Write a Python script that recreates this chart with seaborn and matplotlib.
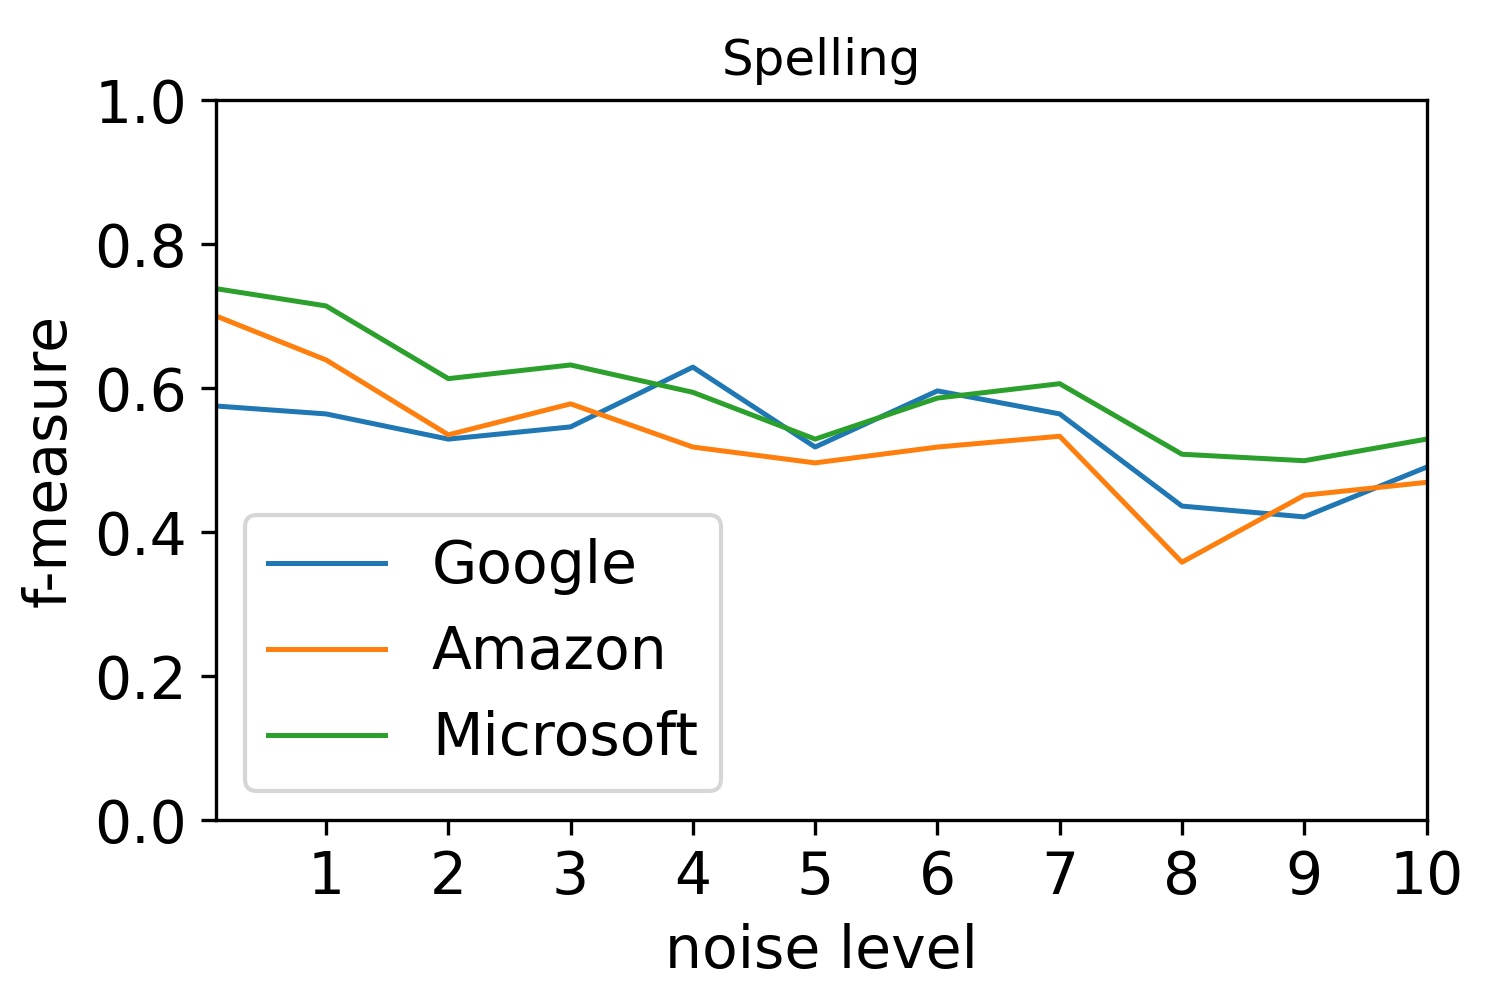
import matplotlib
matplotlib.use("Agg")
import matplotlib.pyplot as plt
import seaborn as sns
import pandas as pd

noise = [0.1, 1, 2, 3, 4, 5, 6, 7, 8, 9, 10]
google = [0.575, 0.564, 0.529, 0.546, 0.629, 0.518, 0.596, 0.564, 0.436, 0.421, 0.490]
amazon = [0.700, 0.639, 0.535, 0.578, 0.518, 0.496, 0.518, 0.533, 0.358, 0.451, 0.469]
microsoft = [0.738, 0.714, 0.613, 0.632, 0.594, 0.529, 0.586, 0.606, 0.508, 0.499, 0.529]

df = pd.DataFrame({"noise": noise * 3,
                   "f": google + amazon + microsoft,
                   "service": ["Google"] * 11 + ["Amazon"] * 11 + ["Microsoft"] * 11})

plt.rcParams['font.family'] = ['DejaVu Sans']
fig, ax = plt.subplots(figsize=(5, 10/3), dpi=300)
sns.lineplot(data=df, x="noise", y="f", hue="service",
             palette=["#1f77b4", "#ff7f0e", "#2ca02c"], ax=ax, linewidth=1.2)
ax.set_xlim(0.1, 10)
ax.set_ylim(0, 1)
ax.set_xticks(range(1, 11))
ax.set_yticks([0, 0.2, 0.4, 0.6, 0.8, 1.0])
ax.tick_params(labelsize=14)
ax.set_xlabel("noise level", fontsize=14)
ax.set_ylabel("f-measure", fontsize=14)
ax.set_title("Spelling", fontsize=12)
ax.legend(title=None, fontsize=14, loc="lower left")
fig.subplots_adjust(left=0.144, right=0.951, top=0.9, bottom=0.18)
fig.savefig("out.png", dpi=300)
